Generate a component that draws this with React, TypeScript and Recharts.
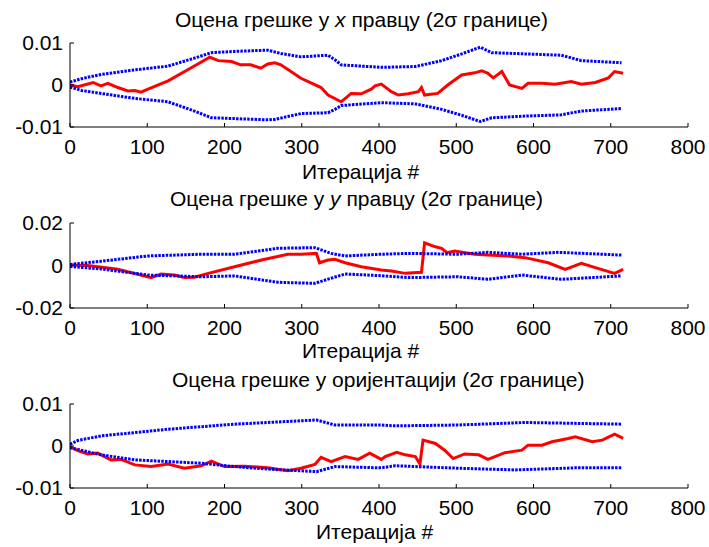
import React from "react";
import { Line, LineChart, XAxis, YAxis } from "recharts";

// iteration ticks shared by all three panels
const xTicks = [0, 100, 200, 300, 400, 500, 600, 700, 800];

// panel 1: error in x direction
const xErrIter = [0, 10, 30, 40, 49, 62, 75, 84, 92, 101, 127, 153, 181, 192, 209, 221, 234, 247, 256, 265, 273, 299, 325, 334, 351, 364, 377, 390, 395, 403, 416, 425, 438, 451, 455, 459, 476, 489, 507, 524, 533, 541, 548, 559, 569, 585, 593, 611, 628, 649, 662, 680, 697, 705, 716];
const xErr = [0, -0.0004, 0.0006, -0.0002, 0.0004, -0.0006, -0.0014, -0.0013, -0.0017, -0.001, 0.001, 0.0037, 0.0066, 0.0058, 0.0056, 0.0048, 0.0048, 0.004, 0.005, 0.0053, 0.0048, 0.0016, -0.0006, -0.0024, -0.004, -0.002, -0.0021, -0.001, -0.0002, 0.0002, -0.0016, -0.0024, -0.0021, -0.0016, -0.0006, -0.0024, -0.002, 0, 0.0024, 0.0029, 0.0034, 0.0028, 0.0017, 0.0032, 0, -0.0008, 0.0004, 0.0004, 0.0002, 0.0008, 0.0002, 0.0006, 0.0017, 0.0032, 0.0028];
const xUpIter = [0, 15, 40, 84, 127, 161, 183, 213, 256, 273, 299, 334, 343, 351, 403, 447, 481, 507, 531, 546, 589, 636, 662, 714];
const xUp = [0.0007, 0.0015, 0.0025, 0.0036, 0.0045, 0.0064, 0.0077, 0.008, 0.0083, 0.0075, 0.0067, 0.0071, 0.006, 0.0048, 0.0042, 0.0044, 0.0058, 0.0074, 0.009, 0.0077, 0.0074, 0.0071, 0.0058, 0.0053];
const xLoIter = [0, 15, 40, 84, 127, 161, 183, 213, 256, 265, 299, 334, 343, 351, 403, 447, 481, 507, 531, 546, 589, 636, 662, 714];
const xLo = [-0.0005, -0.0013, -0.002, -0.0032, -0.004, -0.0062, -0.0078, -0.008, -0.0083, -0.0082, -0.0068, -0.0066, -0.0058, -0.0049, -0.0042, -0.0045, -0.0058, -0.0072, -0.0087, -0.0078, -0.0074, -0.0071, -0.0062, -0.0056];

// panel 2: error in y direction
const yErrIter = [0, 23, 62, 105, 118, 135, 148, 161, 179, 213, 248, 282, 299, 319, 323, 334, 343, 356, 377, 395, 403, 416, 434, 455, 459, 473, 481, 488, 498, 524, 541, 567, 589, 619, 641, 662, 680, 705, 716];
const yErr = [0.0002, 0, -0.0018, -0.0057, -0.004, -0.0045, -0.0057, -0.0055, -0.0037, -0.0006, 0.0026, 0.0053, 0.0053, 0.0057, 0.0013, 0.0026, 0.0029, 0.0013, -0.0006, -0.0016, -0.0021, -0.0026, -0.0037, -0.0032, 0.0107, 0.0088, 0.0081, 0.006, 0.0068, 0.0053, 0.0049, 0.0045, 0.0037, 0.0013, -0.0018, 0.001, -0.001, -0.0037, -0.0018];
const yUpIter = [0, 40, 101, 170, 213, 269, 317, 338, 356, 403, 438, 502, 541, 585, 632, 714];
const yUp = [0.0005, 0.002, 0.0045, 0.0053, 0.0053, 0.0081, 0.0084, 0.0057, 0.0045, 0.0053, 0.0057, 0.0053, 0.0062, 0.0053, 0.0062, 0.0049];
const yLoIter = [0, 40, 101, 170, 213, 269, 317, 338, 356, 403, 438, 502, 541, 585, 636, 714];
const yLo = [-0.0005, -0.0016, -0.0045, -0.0053, -0.0049, -0.0079, -0.0084, -0.006, -0.004, -0.0048, -0.0057, -0.0053, -0.0065, -0.0045, -0.0065, -0.0049];

// panel 3: orientation error
const thErrIter = [0, 10, 23, 36, 53, 66, 84, 105, 127, 148, 170, 183, 200, 226, 256, 282, 299, 317, 325, 338, 356, 373, 388, 403, 408, 423, 434, 447, 453, 457, 473, 485, 496, 511, 529, 541, 563, 585, 593, 611, 624, 645, 654, 676, 689, 705, 716];
const thErr = [-0.0002, -0.0011, -0.0019, -0.0017, -0.0033, -0.0032, -0.0045, -0.0049, -0.0043, -0.0053, -0.0047, -0.0036, -0.0049, -0.0048, -0.0052, -0.0059, -0.0053, -0.0044, -0.0027, -0.0037, -0.0025, -0.0032, -0.0017, -0.0032, -0.0025, -0.0015, -0.0021, -0.0025, -0.0043, 0.0014, 0.0006, -0.001, -0.003, -0.0019, -0.0021, -0.0032, -0.0016, -0.001, 0.0002, 0.0002, 0.001, 0.0018, 0.0022, 0.001, 0.0014, 0.0028, 0.0018];
const thUpIter = [0, 10, 40, 84, 127, 170, 213, 256, 299, 319, 343, 403, 421, 503, 589, 714];
const thUp = [0.0004, 0.0013, 0.0024, 0.0032, 0.004, 0.0046, 0.0052, 0.0056, 0.006, 0.0062, 0.005, 0.005, 0.0048, 0.005, 0.0056, 0.0052];
const thLoIter = [0, 10, 40, 84, 127, 170, 213, 256, 319, 343, 403, 421, 503, 576, 654, 714];
const thLo = [-0.0004, -0.0008, -0.0021, -0.0033, -0.0037, -0.0041, -0.0049, -0.0055, -0.0061, -0.0049, -0.0052, -0.0047, -0.0053, -0.0057, -0.0052, -0.0052];

const font = "'Liberation Sans', Arial, sans-serif";

const zip = (it: number[], v: number[]) => it.map((x, i) => ({ it: x, v: v[i] }));

function Panel({ top, plotTop, plotBottom, yLim, err, up, lo }: any) {
  const h = plotBottom - top + 30;
  const yTicks = [-yLim, 0, yLim];
  return (
    <div style={{ position: "absolute", left: 0, top }}>
      <LineChart width={709} height={h} margin={{ top: plotTop - top, right: 21, bottom: 0, left: 0 }}>
        <XAxis xAxisId="b" dataKey="it" type="number" domain={[0, 800]} ticks={xTicks} allowDataOverflow
          height={30} tickSize={-4} tickMargin={16} stroke="#000" tick={{ fill: "#000", fontSize: 21 }} />
        <XAxis xAxisId="t" orientation="top" dataKey="it" type="number" domain={[0, 800]} ticks={xTicks} allowDataOverflow
          height={0} tickSize={-4} stroke="#000" tick={false} />
        <YAxis yAxisId="l" type="number" domain={[-yLim, yLim]} ticks={yTicks} allowDataOverflow
          width={70} tickSize={-4} tickMargin={11} stroke="#000" tick={{ fill: "#000", fontSize: 21 }}
          tickFormatter={(v: number) => (v === 0 ? "0" : String(v))} />
        <YAxis yAxisId="r" orientation="right" type="number" domain={[-yLim, yLim]} ticks={yTicks} allowDataOverflow
          width={0} tickSize={-4} stroke="#000" tick={false} />
        <Line xAxisId="b" yAxisId="l" data={err} dataKey="v" stroke="#ff0000" strokeWidth={3} dot={false} isAnimationActive={false} />
        <Line xAxisId="b" yAxisId="l" data={up} dataKey="v" stroke="#0000ff" strokeWidth={3} strokeDasharray="2.5 1.2" dot={false} isAnimationActive={false} />
        <Line xAxisId="b" yAxisId="l" data={lo} dataKey="v" stroke="#0000ff" strokeWidth={3} strokeDasharray="2.5 1.2" dot={false} isAnimationActive={false} />
      </LineChart>
    </div>
  );
}

export default function App() {
  return (
    <div style={{ position: "absolute", left: 0, top: 0, width: 709, height: 547, background: "#fff", fontFamily: font, overflow: "hidden" }}>
      <Panel top={0} plotTop={43} plotBottom={127} yLim={0.01} err={zip(xErrIter, xErr)} up={zip(xUpIter, xUp)} lo={zip(xLoIter, xLo)} />
      <Panel top={180} plotTop={223} plotBottom={308} yLim={0.02} err={zip(yErrIter, yErr)} up={zip(yUpIter, yUp)} lo={zip(yLoIter, yLo)} />
      <Panel top={360} plotTop={404} plotBottom={488} yLim={0.01} err={zip(thErrIter, thErr)} up={zip(thUpIter, thUp)} lo={zip(thLoIter, thLo)} />
      <svg width={709} height={547} style={{ position: "absolute", left: 0, top: 0, pointerEvents: "none" }} fontFamily={font} fontSize={21} fill="#000">
        <text x={175} y={27}>Оцена грешке у <tspan fontStyle="italic">x</tspan> правцу (2σ границе)</text>
        <text x={170} y={206}>Оцена грешке у <tspan fontStyle="italic">y</tspan> правцу (2σ границе)</text>
        <text x={172} y={387}>Оцена грешке у оријентацији (2σ границе)</text>
        <text x={302} y={179}>Итерација #</text>
        <text x={302} y={358}>Итерација #</text>
        <text x={316} y={539}>Итерација #</text>
      </svg>
    </div>
  );
}
